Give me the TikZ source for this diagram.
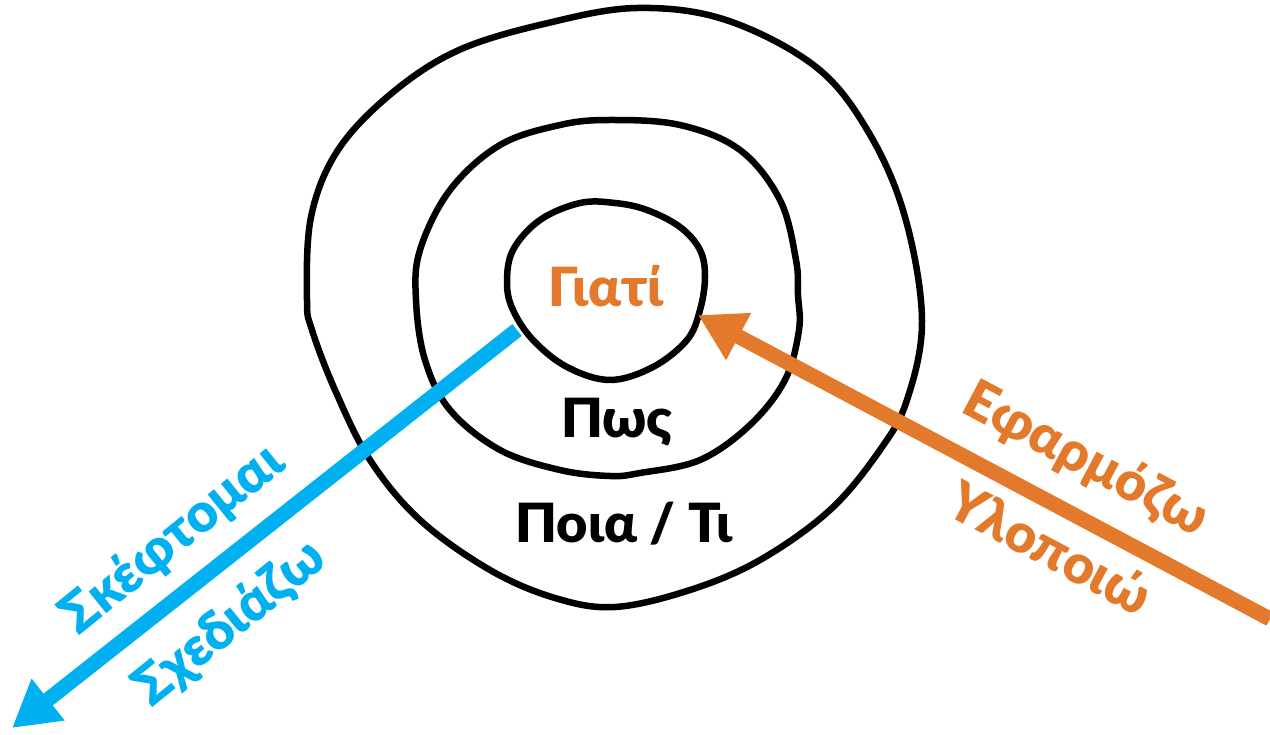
\documentclass[tikz,border=0pt]{standalone}
\usepackage{fontspec}
\setmainfont{Lato}
\newfontfamily\heavyfont{Lato Black}
\usetikzlibrary{arrows.meta}
\definecolor{thinkblue}{HTML}{00B0F0}
\definecolor{doorange}{HTML}{E37A2B}
\tikzset{
  ring/.style={line width=6.5pt, line join=round},
  flow/.style={line width=15pt, -{Triangle[length=46pt,width=50pt]}},
  word/.style={font=\fontsize{54}{60}\selectfont\heavyfont, inner sep=0pt},
}
\begin{document}
\begin{tikzpicture}[x=1pt,y=-1pt]
  \useasboundingbox (0,0) rectangle (1270,735);
  % Outer ring
  \draw[ring] plot[smooth cycle, tension=0.6] coordinates {
    (637,8) (726,20) (816,67) (869,133) (905,217) (922,320) (907,400)
    (880,450) (830,510) (760,560) (690,590) (615,607) (555,598) (490,570)
    (420,520) (370,460) (335,390) (312,330) (307,300) (311,217) (338,150)
    (392,93) (459,50) (548,23)};
  % Middle ring
  \draw[ring] plot[smooth cycle, tension=0.6] coordinates {
    (610,120) (680,125) (740,150) (780,200) (796,260) (798,295) (799,330)
    (785,380) (750,425) (700,460) (640,473) (610,476) (560,470) (500,450)
    (450,410) (425,360) (416,300) (420,250) (450,190) (500,145) (560,125)};
  % Inner ring
  \draw[ring] plot[smooth cycle, tension=0.6] coordinates {
    (580,203) (540,220) (513,250) (507,283) (513,310) (533,340) (567,367)
    (610,380) (653,367) (687,340) (700,310) (705,277) (700,250) (680,227)
    (647,210) (615,203)};

  % Ring labels
  \node[word, text=doorange, anchor=base] (why) at (606,307) {Γιατί};
  \node[word, anchor=base] (how) at (617,437) {Πως};
  \node[word, anchor=base] (what) at (624,542) {Ποια / Τι};

  % Thinking arrow
  \coordinate (thinkstart) at (517,330);
  \coordinate (thinkend) at (12,728);
  \draw[flow, thinkblue] (thinkstart) -- (thinkend);
  \node[word, text=thinkblue, anchor=base, rotate=39] (think) at (183,552) {Σκέφτομαι};
  \node[word, text=thinkblue, anchor=base, rotate=39] (design) at (240,636) {Σχεδιάζω};

  % Doing arrow
  \coordinate (dostart) at (1270,619);
  \coordinate (doend) at (698,315);
  \draw[flow, doorange] (dostart) -- (doend);
  \node[word, text=doorange, anchor=base, rotate=-28] (apply) at (1078,474) {Εφαρμόζω};
  \node[word, text=doorange, anchor=base, rotate=-28] (build) at (1041,565) {Υλοποιώ};
\end{tikzpicture}
\end{document}
